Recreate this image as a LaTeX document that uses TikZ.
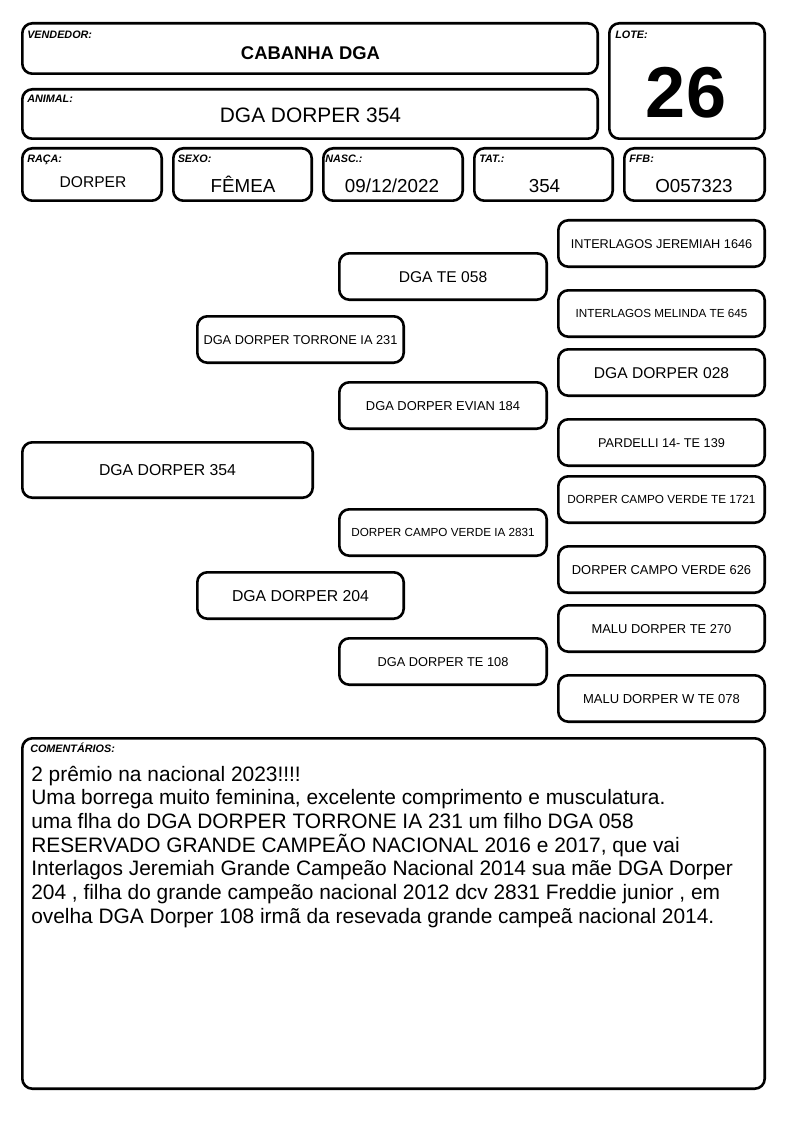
\documentclass[tikz,border=0pt]{standalone}
\usepackage{fontspec}
\setmainfont{Liberation Sans}
\newcommand\pxfont[1]{\pgfmathsetmacro\pxfsz{#1*0.75}\fontsize{\pxfsz pt}{\pxfsz pt}\selectfont}
\tikzset{
  box/.style={draw=black, line width=1.95pt, rounded corners=7.5pt},
  txt/.style={anchor=base, inner sep=0pt},
  lbl/.style={anchor=base west, inner sep=0pt, font=\pxfont{10.8}\bfseries\itshape},
  cmt/.style={anchor=base west, inner sep=0pt, font=\pxfont{20.9}},
}
% outer-edge box
\newcommand\mybox[4]{%
  \pgfmathsetmacro\mbxa{#1+1.3}\pgfmathsetmacro\mbya{#2+1.3}%
  \pgfmathsetmacro\mbxb{#3-1.3}\pgfmathsetmacro\mbyb{#4-1.3}%
  \draw[box] (\mbxa,\mbya) rectangle (\mbxb,\mbyb);}
% pedigree box: name, x1, y1, x2, y2, font px, text
\newcommand\pbox[7]{%
  \mybox{#2}{#3}{#4}{#5}%
  \pgfmathsetmacro\pbcx{(#2+#4)/2}\pgfmathsetmacro\pbcy{(#3+#5)/2+0.358*#6}%
  \node[txt, font=\pxfont{#6}] (#1) at (\pbcx,\pbcy) {#7};}
\begin{document}
\begin{tikzpicture}[x=0.75pt, y=-0.75pt]
\useasboundingbox (0,0) rectangle (794,1123);
\fill[white] (0,0) rectangle (794,1123);
% header
\mybox{21}{22}{599}{75}
\node[lbl] (lvend) at (27,39) {VENDEDOR:};
\node[txt, font=\pxfont{18.4}\bfseries] (vend) at (310.5,60) {CABANHA DGA};
\mybox{21}{88}{599}{140}
\node[lbl] (lanim) at (27,103) {ANIMAL:};
\node[txt, font=\pxfont{20.9}] (anim) at (310.5,123) {DGA DORPER 354};
\mybox{608}{22}{766}{140}
\node[lbl] (llote) at (615,39) {LOTE:};
\node[txt, font=\pxfont{72}\bfseries] (lote) at (686,118) {26};
% info row
\mybox{21}{147}{163}{202}
\node[lbl] (lraca) at (27,162.5) {RAÇA:};
\node[txt, font=\pxfont{15.6}] (raca) at (93,188) {DORPER};
\mybox{172}{147}{313}{202}
\node[lbl] (lsexo) at (177.5,162.5) {SEXO:};
\node[txt, font=\pxfont{18.8}] (sexo) at (243,193) {FÊMEA};
\mybox{322}{147}{464}{202}
\node[lbl] (lnasc) at (325,162.5) {NASC.:};
\node[txt, font=\pxfont{18.8}] (nasc) at (392,193) {09/12/2022};
\mybox{473}{147}{614}{202}
\node[lbl] (ltat) at (479,162.5) {TAT.:};
\node[txt, font=\pxfont{18.8}] (tat) at (544.5,193) {354};
\mybox{623}{147}{766}{202}
\node[lbl] (lffb) at (629,162.5) {FFB:};
\node[txt, font=\pxfont{18.8}] (ffb) at (694,193) {O057323};
% pedigree
\pbox{p0}{21}{441}{314}{499}{15.8}{DGA DORPER 354}
\pbox{s}{196}{315}{405}{364}{12.8}{DGA DORPER TORRONE IA 231}
\pbox{d}{196}{571}{405}{620}{15.8}{DGA DORPER 204}
\pbox{ss}{338}{252}{548}{301}{15.6}{DGA TE 058}
\pbox{sd}{338}{381}{548}{430}{12.9}{DGA DORPER EVIAN 184}
\pbox{ds}{338}{508}{548}{557}{11.7}{DORPER CAMPO VERDE IA 2831}
\pbox{dd}{338}{637}{548}{686}{12.8}{DGA DORPER TE 108}
\pbox{sss}{557}{219}{766}{268}{12.7}{INTERLAGOS JEREMIAH 1646}
\pbox{ssd}{557}{289}{766}{338}{11.7}{INTERLAGOS MELINDA TE 645}
\pbox{sds}{557}{348}{766}{397}{15.6}{DGA DORPER 028}
\pbox{sdd}{557}{418}{766}{467}{12.7}{PARDELLI 14- TE 139}
\pbox{dss}{557}{475}{766}{524}{11.75}{DORPER CAMPO VERDE TE 1721}
\pbox{dsd}{557}{545}{766}{594}{12.9}{DORPER CAMPO VERDE 626}
\pbox{dds}{557}{604}{766}{653}{12.9}{MALU DORPER TE 270}
\pbox{ddd}{557}{674}{766}{723}{13}{MALU DORPER W TE 078}
% comments
\mybox{21}{737}{766}{1090}
\node[lbl, font=\pxfont{10.8}\bfseries\itshape] (lcom) at (30,752.7) {COMENTÁRIOS:};
\node[cmt] (c1) at (31,781) {2 prêmio na nacional 2023!!!!};
\node[cmt] (c2) at (31,804.7) {Uma borrega muito feminina, excelente comprimento e musculatura.};
\node[cmt] (c3) at (31,828.4) {uma flha do DGA DORPER TORRONE IA 231 um filho DGA 058};
\node[cmt] (c4) at (31,852.1) {RESERVADO GRANDE CAMPEÃO NACIONAL 2016 e 2017, que vai};
\node[cmt] (c5) at (31,875.8) {Interlagos Jeremiah Grande Campeão Nacional 2014 sua mãe DGA Dorper};
\node[cmt] (c6) at (31,899.5) {204 , filha do grande campeão nacional 2012 dcv 2831 Freddie junior , em};
\node[cmt] (c7) at (31,923.2) {ovelha DGA Dorper 108 irmã da resevada grande campeã nacional 2014.};
\end{tikzpicture}
\end{document}
